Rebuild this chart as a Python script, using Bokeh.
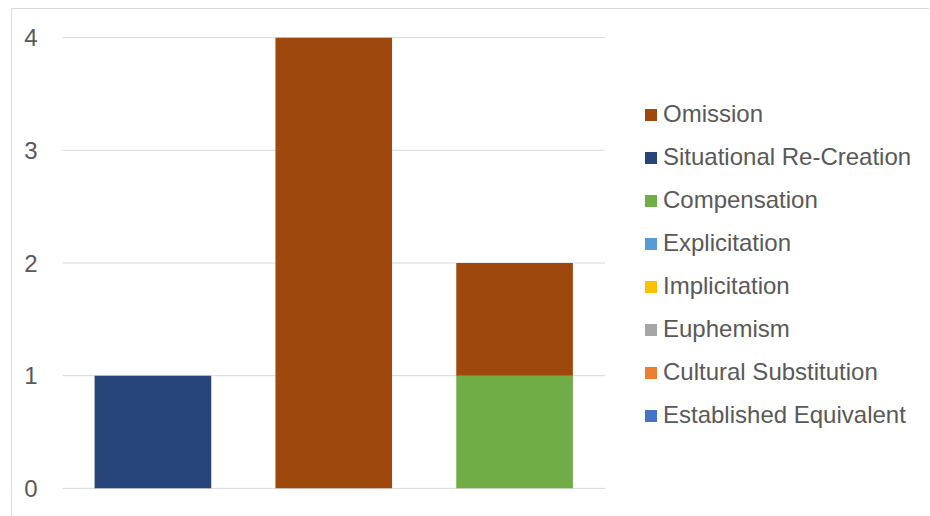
from bokeh.plotting import figure
from bokeh.models import Range1d, Legend, LegendItem, FixedTicker
from bokeh.embed import file_html
from bokeh.resources import INLINE

# Three groups, stacked by translation strategy (bottom to top)
groups = [1, 2, 3]
series = [
    "Established Equivalent",
    "Cultural Substitution",
    "Euphemism",
    "Implicitation",
    "Explicitation",
    "Compensation",
    "Situational Re-Creation",
    "Omission",
]
established = [0, 0, 0]
cultural = [0, 0, 0]
euphemism = [0, 0, 0]
implicitation = [0, 0, 0]
explicitation = [0, 0, 0]
compensation = [0, 0, 1]
situational = [1, 0, 0]
omission = [0, 4, 1]
colors = ["#4472C4", "#ED7D31", "#A5A5A5", "#FFC000",
          "#5B9BD5", "#70AD47", "#264478", "#9E480E"]
y_ticks = [0, 1, 2, 3, 4]

TEXT = "#595959"
FONT = "Liberation Sans"

data = dict(x=groups)
for name, vals in zip(series, [established, cultural, euphemism, implicitation,
                               explicitation, compensation, situational, omission]):
    data[name] = vals

# The frame runs on to the right edge so the legend has room beside the bars;
# the value grid is drawn only across the three groups.
p = figure(width=918, height=508, output_backend="svg", toolbar_location=None,
           x_range=Range1d(0.5, 5.3), y_range=Range1d(-0.01, 4.01),
           min_border_left=50, min_border_right=0, min_border_top=27,
           min_border_bottom=28, margin=(8, 0, 0, 11))
p.styles = {"border-top": "1px solid #D9D9D9", "border-left": "1px solid #D9D9D9"}
p.outline_line_color = None
p.grid.visible = False

p.segment(x0=[0.5] * len(y_ticks), x1=[3.5] * len(y_ticks), y0=y_ticks, y1=y_ticks,
          line_color="#D9D9D9", line_width=1)

renderers = p.vbar_stack(series, x="x", width=0.645, color=colors,
                         line_color=None, source=data)

p.xaxis.visible = False
p.yaxis.ticker = FixedTicker(ticks=y_ticks)
p.yaxis.axis_line_color = None
p.yaxis.major_tick_line_color = None
p.yaxis.minor_tick_line_color = None
p.yaxis.major_label_standoff = 19
p.yaxis.major_label_text_font = FONT
p.yaxis.major_label_text_font_size = "24px"
p.yaxis.major_label_text_color = TEXT

items = [LegendItem(label=name, renderers=[r]) for name, r in zip(series, renderers)]
legend = Legend(items=items[::-1], location=(581, 60))
legend.border_line_color = None
legend.background_fill_alpha = 0
legend.padding = 0
legend.margin = 0
legend.glyph_width = 15
legend.glyph_height = 15
legend.label_standoff = 5
legend.spacing = 15
legend.label_text_font = FONT
legend.label_text_font_size = "24px"
legend.label_text_color = TEXT
p.add_layout(legend, "center")

open("out.html", "w").write(file_html(p, INLINE))
